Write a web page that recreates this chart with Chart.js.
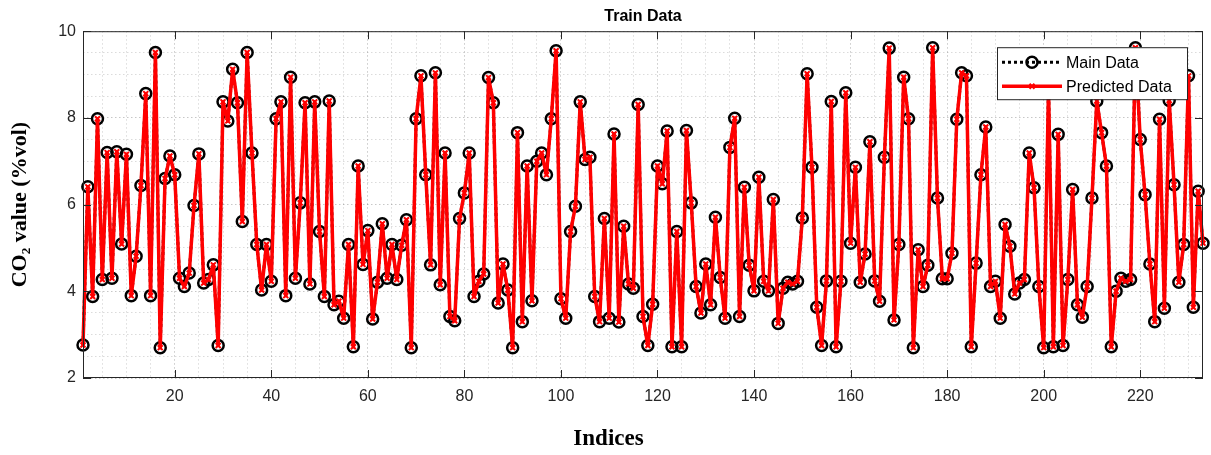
<!DOCTYPE html>
<html>
<head>
<meta charset="utf-8">
<title>Train Data</title>
<script src="https://cdn.jsdelivr.net/npm/chart.js@4.4.0/dist/chart.umd.min.js"></script>
<style>
    html, body { margin: 0; padding: 0; background: #fff; }
    #wrap { width: 1211px; height: 455px; }
</style>
</head>
<body>
<div id="wrap"><canvas id="trainChart" width="1211" height="455"></canvas></div>
<script>
// CO2 values, index 1..233
const mainData = [
    2.76, 6.41, 3.88, 7.98, 4.27, 7.20, 4.30, 7.22, 5.09, 7.16,
    3.90, 4.81, 6.44, 8.56, 3.90, 9.51, 2.70, 6.60, 7.12, 6.69,
    4.30, 4.11, 4.42, 5.98, 7.17, 4.19, 4.27, 4.61, 2.75, 8.37,
    7.93, 9.12, 8.35, 5.61, 9.51, 7.19, 5.08, 4.03, 5.08, 4.23,
    7.98, 8.37, 3.90, 8.94, 4.30, 6.04, 8.35, 4.17, 8.37, 5.38,
    3.88, 8.39, 3.69, 3.77, 3.38, 5.08, 2.72, 6.89, 4.62, 5.40,
    3.36, 4.21, 5.56, 4.30, 5.08, 4.27, 5.06, 5.65, 2.70, 7.98,
    8.97, 6.69, 4.61, 9.04, 4.15, 7.19, 3.42, 3.32, 5.68, 6.27,
    7.19, 3.88, 4.23, 4.40, 8.93, 8.35, 3.73, 4.63, 4.03, 2.70,
    7.66, 3.30, 6.89, 3.78, 7.00, 7.19, 6.69, 7.98, 9.55, 3.83,
    3.38, 5.38, 5.96, 8.37, 7.04, 7.09, 3.88, 3.30, 5.68, 3.38,
    7.63, 3.29, 5.50, 4.17, 4.07, 8.31, 3.42, 2.75, 3.70, 6.89,
    6.48, 7.70, 2.72, 5.38, 2.72, 7.71, 6.04, 4.11, 3.50, 4.63,
    3.69, 5.71, 4.32, 3.38, 7.32, 7.99, 3.42, 6.40, 4.60, 4.01,
    6.63, 4.23, 4.01, 6.12, 3.26, 4.07, 4.21, 4.17, 4.23, 5.69,
    9.02, 6.86, 3.63, 2.75, 4.24, 8.38, 2.72, 4.23, 8.58, 5.11,
    6.86, 4.21, 4.86, 7.45, 4.24, 3.77, 7.09, 9.61, 3.34, 5.08,
    8.94, 7.98, 2.70, 4.96, 4.11, 4.60, 9.62, 6.15, 4.29, 4.29,
    4.88, 7.97, 9.04, 8.97, 2.72, 4.65, 6.69, 7.79, 4.11, 4.23,
    3.38, 5.54, 5.04, 3.94, 4.19, 4.27, 7.19, 6.39, 4.11, 2.70,
    8.70, 2.72, 7.62, 2.75, 4.27, 6.35, 3.69, 3.40, 4.11, 6.15,
    8.39, 7.66, 6.89, 2.72, 4.00, 4.30, 4.23, 4.27, 9.62, 7.50,
    6.23, 4.63, 3.30, 7.97, 3.61, 8.40, 6.46, 4.21, 5.08, 8.97,
    3.63, 6.31, 5.11
];
// the prediction lies on top of the measured values everywhere in the picture
const predictedData = mainData;

const xTickLabels = [20, 40, 60, 80, 100, 120, 140, 160, 180, 200, 220];
const yTickLabels = [2, 4, 6, 8, 10];
const xMin = 1, xMax = 233, yMin = 2, yMax = 10;

const sansFont = '"Liberation Sans", Arial, sans-serif';
const serifFont = '"Liberation Serif", "Times New Roman", serif';
const axisColor = '#262626';

const toPoints = arr => arr.map((v, i) => ({ x: i + 1, y: v }));

// minor grid every 5 indices / 0.5 units, like the matlab figure
const xGrid = [];
for (let v = 5; v < xMax; v += 5) xGrid.push(v);
const yGrid = [];
for (let v = yMin; v <= yMax + 1e-9; v += 0.5) yGrid.push(Math.round(v * 10) / 10);

// box round the axes plus inward tick marks, and the x label centred on the figure
const framePlugin = {
    id: 'frame',
    afterDatasetsDraw(chart) {
        const { ctx, chartArea: a, scales } = chart;
        ctx.save();
        ctx.strokeStyle = axisColor;
        ctx.lineWidth = 1;
        ctx.strokeRect(a.left + 0.5, a.top + 0.5, a.width - 1, a.height - 1);
        ctx.beginPath();
        xTickLabels.forEach(v => {
            const px = Math.round(scales.x.getPixelForValue(v)) + 0.5;
            ctx.moveTo(px, a.bottom); ctx.lineTo(px, a.bottom - 8);
            ctx.moveTo(px, a.top); ctx.lineTo(px, a.top + 8);
        });
        yTickLabels.forEach(v => {
            const py = Math.round(scales.y.getPixelForValue(v)) + 0.5;
            ctx.moveTo(a.left, py); ctx.lineTo(a.left + 8, py);
            ctx.moveTo(a.right, py); ctx.lineTo(a.right - 8, py);
        });
        ctx.stroke();

        ctx.fillStyle = '#000';
        ctx.font = 'bold 23px ' + serifFont;
        ctx.textAlign = 'center';
        ctx.textBaseline = 'middle';
        ctx.fillText('Indices', chart.width / 2 + 3, 439);
        ctx.restore();
    }
};

// legend box in the top right corner of the axes
const legendPlugin = {
    id: 'boxLegend',
    afterDraw(chart) {
        const { ctx, chartArea: a } = chart;
        const ds = chart.data.datasets;
        const w = 190, h = 52;
        const x0 = a.right - 16 - w, y0 = a.top + 16;
        ctx.save();
        ctx.fillStyle = '#fff';
        ctx.fillRect(x0, y0, w, h);
        ctx.strokeStyle = axisColor;
        ctx.lineWidth = 1;
        ctx.strokeRect(x0 + 0.5, y0 + 0.5, w, h);

        const rows = [y0 + 15, y0 + 39];
        ds.forEach((d, i) => {
            const y = rows[i];
            ctx.save();
            ctx.strokeStyle = d.borderColor;
            ctx.lineWidth = d.borderWidth;
            ctx.setLineDash(d.borderDash || []);
            ctx.beginPath();
            ctx.moveTo(x0 + 5, y);
            ctx.lineTo(x0 + 65, y);
            ctx.stroke();
            ctx.restore();

            ctx.save();
            ctx.strokeStyle = d.pointBorderColor;
            ctx.fillStyle = d.pointBackgroundColor;
            ctx.lineWidth = d.pointBorderWidth;
            Chart.helpers.drawPoint(ctx, {
                pointStyle: d.pointStyle,
                radius: d.pointRadius,
                borderWidth: d.pointBorderWidth,
                rotation: 0
            }, x0 + 35, y);
            ctx.restore();

            ctx.fillStyle = '#000';
            ctx.font = '16px ' + sansFont;
            ctx.textBaseline = 'middle';
            ctx.textAlign = 'left';
            ctx.fillText(d.label, x0 + 69, y + 1);
        });
        ctx.restore();
    }
};

const ctx = document.getElementById('trainChart').getContext('2d');
new Chart(ctx, {
    type: 'line',
    data: {
        datasets: [{
            label: 'Main Data',
            data: toPoints(mainData),
            borderColor: '#000000',
            borderWidth: 3,
            borderDash: [3, 3],
            borderJoinStyle: 'round',
            pointStyle: 'circle',
            pointRadius: 5.5,
            pointBorderWidth: 2.5,
            pointBorderColor: '#000000',
            pointBackgroundColor: 'rgba(0,0,0,0)',
            clip: false,
            order: 1
        }, {
            label: 'Predicted Data',
            data: toPoints(predictedData),
            borderColor: '#ff0000',
            borderWidth: 3.5,
            borderJoinStyle: 'round',
            borderCapStyle: 'round',
            pointStyle: 'crossRot',
            pointRadius: 3.5,
            pointBorderWidth: 2,
            pointBorderColor: '#ff0000',
            pointBackgroundColor: '#ff0000',
            clip: false,
            order: 0
        }]
    },
    options: {
        responsive: false,
        animation: false,
        layout: { padding: { left: 0, right: 3, top: 0, bottom: 0 } },
        scales: {
            x: {
                type: 'linear',
                min: xMin,
                max: xMax,
                afterBuildTicks: s => { s.ticks = xGrid.map(v => ({ value: v })); },
                afterFit: s => { s.height = 77; },
                ticks: {
                    autoSkip: false,
                    maxRotation: 0,
                    padding: 9,
                    color: axisColor,
                    font: { family: sansFont, size: 16 },
                    callback: v => xTickLabels.includes(v) ? String(v) : ''
                },
                grid: {
                    drawTicks: false,
                    lineWidth: 1,
                    color: c => xTickLabels.includes(c.tick && c.tick.value) ? 'rgba(0,0,0,0.22)' : 'rgba(0,0,0,0.14)'
                },
                border: { display: false, dash: [1.5, 2.5] }
            },
            y: {
                min: yMin,
                max: yMax,
                afterBuildTicks: s => { s.ticks = yGrid.map(v => ({ value: v })); },
                afterFit: s => { s.width = 83; },
                ticks: {
                    autoSkip: false,
                    padding: 7,
                    color: axisColor,
                    font: { family: sansFont, size: 16 },
                    callback: v => yTickLabels.includes(v) ? String(v) : ''
                },
                grid: {
                    drawTicks: false,
                    lineWidth: 1,
                    color: c => yTickLabels.includes(c.tick && c.tick.value) ? 'rgba(0,0,0,0.22)' : 'rgba(0,0,0,0.14)'
                },
                border: { display: false, dash: [1.5, 2.5] },
                title: {
                    display: true,
                    text: 'CO₂ value (%vol)',
                    color: '#000',
                    font: { family: serifFont, size: 22, weight: 'bold' },
                    padding: { top: 7, bottom: 0 }
                }
            }
        },
        plugins: {
            legend: { display: false },
            tooltip: { enabled: false },
            title: {
                display: true,
                text: 'Train Data',
                fullSize: false,
                color: '#000',
                font: { family: sansFont, size: 16, weight: 'bold' },
                padding: { top: 7, bottom: 5 }
            }
        }
    },
    plugins: [framePlugin, legendPlugin]
});
</script>
</body>
</html>
